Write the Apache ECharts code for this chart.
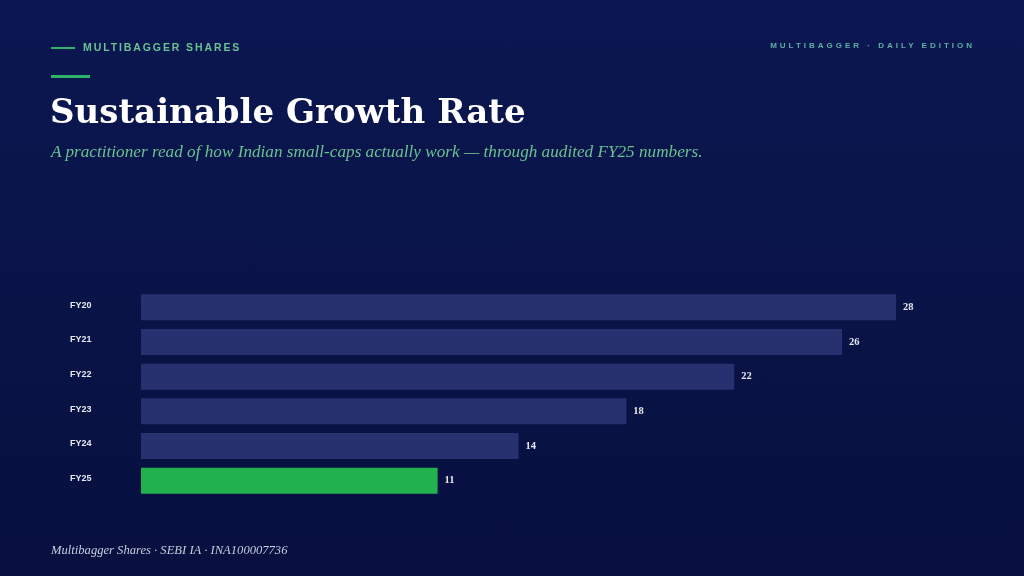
<!DOCTYPE html>
<html><head><meta charset="utf-8">
<script src="https://cdn.jsdelivr.net/npm/echarts@6/dist/echarts.min.js"></script>
<style>
html,body{margin:0;padding:0;width:1024px;height:576px;overflow:hidden;}
body{background:linear-gradient(180deg,#0b1751 0%,#07103e 100%);position:relative;font-family:"Liberation Sans",Arial,sans-serif;}
#chart{position:absolute;left:0;top:0;width:1024px;height:576px;}
.t{position:absolute;white-space:nowrap;}
</style></head><body>
<div id="chart"></div>
<div class="t" style="left:51px;top:47px;width:24px;height:2px;background:#2fb36a;"></div>
<div class="t" style="left:83px;top:41px;font-size:10.5px;font-weight:bold;letter-spacing:1.9px;color:#6cc192;">MULTIBAGGER SHARES</div>
<div class="t" style="right:49px;top:41px;font-size:8px;font-weight:bold;letter-spacing:3px;color:#5fb1a3;">MULTIBAGGER · DAILY EDITION</div>
<div class="t" style="left:51px;top:75px;width:39px;height:3px;background:#2fb36a;"></div>
<div class="t" style="left:50px;top:91px;font-family:'DejaVu Serif',Georgia,serif;font-weight:bold;font-size:34px;color:#ffffff;">Sustainable Growth Rate</div>
<div class="t" style="left:51px;top:142px;font-family:'Liberation Serif',Georgia,serif;font-style:italic;font-size:17.2px;color:#6cc192;">A practitioner read of how Indian small-caps actually work — through audited FY25 numbers.</div>
<div class="t" style="left:51px;top:543px;font-family:'Liberation Serif',Georgia,serif;font-style:italic;font-size:12.6px;color:#c9cde0;">Multibagger Shares · SEBI IA · INA100007736</div>
<script>
const categories = ["FY20","FY21","FY22","FY23","FY24","FY25"];
const values = [28, 26, 22, 18, 14, 11];
const highlight = "FY25";

const chart = echarts.init(document.getElementById('chart'), null, {renderer:'canvas'});
chart.setOption({
  backgroundColor: 'transparent',
  animation: false,
  grid: {left:141, right:128, top:290, height:208, containLabel:false},
  xAxis: {type:'value', min:0, max:28, show:false},
  yAxis: {
    type:'category', data:categories, inverse:true,
    axisLine:{show:false}, axisTick:{show:false}, splitLine:{show:false},
    axisLabel:{
      align:'left', margin:71,
      formatter: v => '{c|' + v + '}',
      rich:{ c:{ color:'#e6e8f0', fontSize:9, fontWeight:'bold',
        fontFamily:'"Liberation Sans",Arial,sans-serif', lineHeight:10, padding:[0,0,4,0] } }
    }
  },
  series: [{
    type:'bar', barWidth:26,
    data: values.map((v,i)=>({value:v, itemStyle:{color: categories[i]===highlight ? '#22b14f' : '#27316f'}})),
    label:{
      show:true, position:'right', distance:7,
      color:'#e6e8f0', fontSize:10.5, fontWeight:'bold',
      fontFamily:'Georgia,"Liberation Serif",serif'
    }
  }]
});
</script>
</body></html>
